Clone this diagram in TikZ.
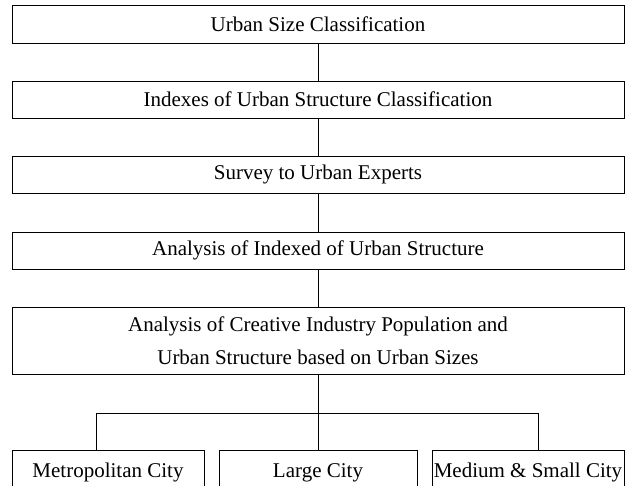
\documentclass[tikz,border=0pt]{standalone}
\usepackage{fontspec}
\setmainfont{Liberation Serif}
\usepackage{tikz}

\begin{document}
\begin{tikzpicture}[x=1pt,y=1pt,line width=0.8pt,
	box/.style={draw,minimum width=612pt,inner sep=0pt,align=center,
		font=\fontsize{21}{33}\selectfont},
	city/.style={draw,minimum height=50pt,inner sep=0pt,text height=0.7em,text depth=0.22em,
		font=\fontsize{21}{33}\selectfont}]
\clip (0,0) rectangle (629,486);
\path (318,462) node[box,minimum height=38pt] (size) {Urban Size Classification}
		(318,386.5) node[box,minimum height=37pt] (index) {Indexes of Urban Structure Classification}
		(318,311.5) node[box,minimum height=37pt] (survey) {Survey to Urban Experts}
		(318,235.5) node[box,minimum height=37pt] (anal) {Analysis of Indexed of Urban Structure}
		(318,145.5) node[box,minimum height=67pt] (pop) {Analysis of Creative Industry Population and\\Urban Structure based on Urban Sizes}
		(108,11) node[city,minimum width=192pt] (metro) {Metropolitan City}
		(318,11) node[city,minimum width=198pt] (large) {Large City}
		(528,11) node[city,minimum width=192pt] (small) {Medium \& Small City}
					;
\coordinate (lt) at (96,73);
\coordinate (rt) at (538,73);
\draw (size) -- (index);
\draw (index) -- (survey);
\draw (survey) -- (anal);
\draw (anal) -- (pop);
\draw (pop.south) -- (large.north);
\draw (lt) -- (rt);
\draw (lt) -- (lt |- metro.north);
\draw (rt) -- (rt |- small.north);
\end{tikzpicture}
\end{document}
